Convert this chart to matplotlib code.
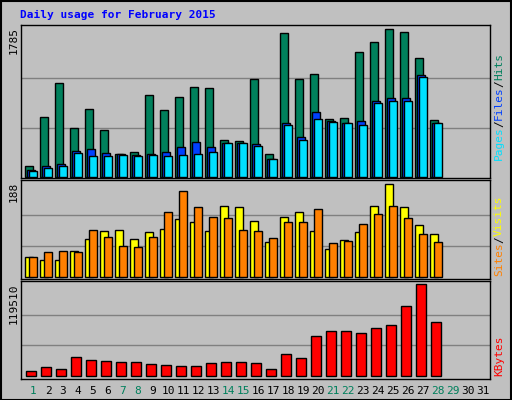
import matplotlib
matplotlib.use("Agg")
import matplotlib.pyplot as plt
import numpy as np
from matplotlib.patches import Rectangle

days = list(range(1, 29))
hits = [129, 729, 1140, 584, 814, 560, 270, 294, 995, 802, 971, 1092, 1080, 439, 427, 1177,
        270, 1745, 1177, 1249, 693, 705, 1515, 1636, 1785, 1757, 1443, 681]
files = [81, 129, 153, 306, 330, 282, 270, 258, 270, 294, 355, 415, 355, 403, 403, 391,
         210, 645, 476, 778, 669, 645, 669, 911, 959, 947, 1237, 645]
pages = [64, 101, 125, 282, 246, 246, 258, 246, 258, 246, 258, 270, 294, 403, 403, 367,
         210, 621, 439, 693, 657, 645, 621, 887, 911, 911, 1213, 645]
visits = [41, 35, 33, 52, 76, 94, 96, 76, 92, 98, 117, 111, 94, 145, 143, 113,
          70, 121, 131, 94, 56, 74, 92, 145, 188, 143, 105, 86]
sites = [41, 50, 52, 50, 96, 80, 62, 60, 80, 131, 174, 141, 121, 119, 96, 94,
         78, 111, 111, 137, 68, 72, 107, 127, 145, 119, 88, 70]
kbytes = [5670, 10900, 8280, 23980, 20050, 18750, 17440, 17440, 14820, 13520, 12210, 12210,
          16130, 17440, 17440, 16130, 8280, 27900, 22670, 51450, 57990, 57990, 55370, 61910,
          65840, 90690, 119510, 69760]
day_labels = [str(d) for d in range(1, 32)]
weekend = {1, 7, 8, 14, 15, 21, 22, 28, 29}
max_hits, max_visits, max_kb = 1785, 188, 119510

W, H = 512, 400
BG = "#C0C0C0"
fig = plt.figure(figsize=(W / 100, H / 100), dpi=100, facecolor=BG)
fig.patches.append(Rectangle((0.5 / W, 0.5 / H), 1 - 1.5 / W, 1 - 1.5 / H, transform=fig.transFigure,
                             fill=False, edgecolor="black", lw=1.5))

def ax_at(top, bottom, left=21, right=490):
    a = fig.add_axes([left / W, 1 - bottom / H, (right - left) / W, (bottom - top) / H])
    a.set_facecolor(BG)
    a.set_xlim(0.6, 0.6 + (right - left) / 15)
    a.set_xticks([]); a.set_yticks([])
    for s in a.spines.values():
        s.set_color("black"); s.set_linewidth(1)
    return a

x = np.array(days, dtype=float)
mono = "DejaVu Sans Mono"

a1 = ax_at(24.7, 178)
a1.set_ylim(-15, 1840)
for g in (max_hits / 3, 2 * max_hits / 3):
    a1.axhline(g, color="#808080", lw=1, zorder=0)
kw = dict(align="edge", edgecolor="black", linewidth=1)
a1.bar(x - 0.11, hits, 0.49, color="#00805C", **kw)
a1.bar(x + 0.02, files, 0.49, color="#0040FF", **kw)
a1.bar(x + 0.15, pages, 0.49, color="#00E0FF", **kw)

a2 = ax_at(180, 279)
a2.set_ylim(-4.7, 197)
for g in (max_visits / 3, 2 * max_visits / 3):
    a2.axhline(g, color="#808080", lw=1, zorder=0)
a2.bar(x - 0.11, visits, 0.49, color="#FFFF00", **kw)
a2.bar(x + 0.15, sites, 0.49, color="#FF8000", **kw)

a3 = ax_at(280.5, 379)
a3.set_ylim(-4300, 124500)
for g in (max_kb / 3, 2 * max_kb / 3):
    a3.axhline(g, color="#808080", lw=1, zorder=0)
a3.bar(x - 0.04, kbytes, 0.67, color="#FF0000", **kw)

for i, lab in enumerate(day_labels, start=1):
    a3.text(i + 0.4, -0.12, lab, transform=a3.get_xaxis_transform(), ha="center", va="center",
            fontsize=8, family=mono, color="#00805C" if i in weekend else "black")

fig.text(20 / W, 1 - 15 / H, "Daily usage for February 2015", color="#0000FF", fontsize=8,
         fontweight="bold", family=mono, ha="left", va="center")

for lab, ytop in (("1785", 27), ("188", 182), ("119510", 283)):
    fig.text(14 / W, 1 - ytop / H, lab, rotation=90, fontsize=8, family=mono,
             ha="center", va="top")

cw = 6.67
def right_label(segs, ybottom):
    y = ybottom
    for txt, col in segs:
        fig.text(499 / W, 1 - y / H, txt, rotation=90, fontsize=8, family=mono, color=col,
                 ha="center", va="bottom")
        y -= len(txt) * cw

right_label([("Pages", "#00E0FF"), ("/", "black"), ("Files", "#0040FF"), ("/", "black"),
             ("Hits", "#00805C")], 160)
right_label([("Sites", "#FF8000"), ("/", "black"), ("Visits", "#FFFF00")], 276)
right_label([("KBytes", "#FF0000")], 376)

fig.savefig("out.png", dpi=100, facecolor=BG)
